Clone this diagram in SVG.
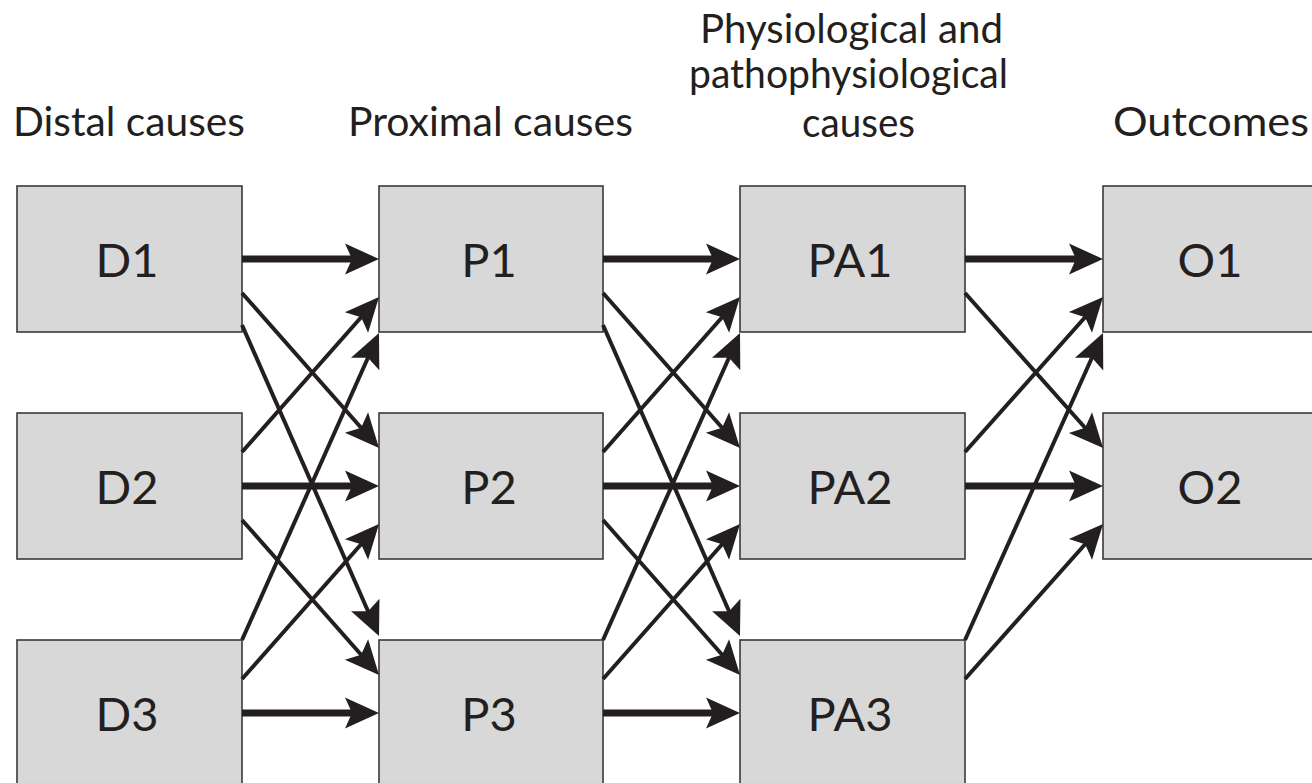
<svg xmlns="http://www.w3.org/2000/svg" width="1312" height="783" viewBox="0 0 1312 783">
  <style>
    .box { fill: #d8d8d8; stroke: #3a3a3a; stroke-width: 1.6; }
    .label { font-family: Lato, "Open Sans", "Liberation Sans", sans-serif; font-size: 47px; fill: #231f20; text-anchor: middle; }
    .title { font-family: Lato, "Open Sans", "Liberation Sans", sans-serif; font-size: 40px; fill: #231f20; text-anchor: middle; }
    .thick { stroke: #231f20; stroke-width: 7; fill: none; marker-end: url(#head); }
    .thin { stroke: #231f20; stroke-width: 4; fill: none; marker-end: url(#head); }
  </style>
  <defs>
    <!-- arrowhead: tip sits 20 units past the line end -->
    <marker id="head" markerUnits="userSpaceOnUse" markerWidth="1" markerHeight="1" refX="0" refY="0" orient="auto" overflow="visible">
      <path d="M20,0 L-14,-15.5 L-7,0 L-14,15.5 Z" fill="#231f20"/>
    </marker>
  </defs>

  <rect width="1312" height="783" fill="#ffffff"/>

  <!-- column headings -->
  <g id="headings">
    <text class="title" x="129" y="136" textLength="232" lengthAdjust="spacingAndGlyphs">Distal causes</text>
    <text class="title" x="490.5" y="136" textLength="285" lengthAdjust="spacingAndGlyphs">Proximal causes</text>
    <text class="title" x="851.5" y="43" textLength="303" lengthAdjust="spacingAndGlyphs">Physiological and</text>
    <text class="title" x="848.5" y="88" textLength="319" lengthAdjust="spacingAndGlyphs">pathophysiological</text>
    <text class="title" x="858.5" y="137" textLength="113" lengthAdjust="spacingAndGlyphs">causes</text>
    <text class="title" x="1211" y="136" textLength="196" lengthAdjust="spacingAndGlyphs">Outcomes</text>
  </g>

  <!-- distal causes -->
  <g id="D1"><rect class="box" x="17" y="186" width="225" height="146"/><text class="label" x="127" y="277">D1</text></g>
  <g id="D2"><rect class="box" x="17" y="413" width="225" height="146"/><text class="label" x="127" y="504">D2</text></g>
  <g id="D3"><rect class="box" x="17" y="640" width="225" height="146"/><text class="label" x="127" y="731">D3</text></g>

  <!-- proximal causes -->
  <g id="P1"><rect class="box" x="379" y="186" width="224" height="146"/><text class="label" x="489" y="277">P1</text></g>
  <g id="P2"><rect class="box" x="379" y="413" width="224" height="146"/><text class="label" x="489" y="504">P2</text></g>
  <g id="P3"><rect class="box" x="379" y="640" width="224" height="146"/><text class="label" x="489" y="731">P3</text></g>

  <!-- physiological and pathophysiological causes -->
  <g id="PA1"><rect class="box" x="740" y="186" width="225" height="146"/><text class="label" x="850" y="277">PA1</text></g>
  <g id="PA2"><rect class="box" x="740" y="413" width="225" height="146"/><text class="label" x="850" y="504">PA2</text></g>
  <g id="PA3"><rect class="box" x="740" y="640" width="225" height="146"/><text class="label" x="850" y="731">PA3</text></g>

  <!-- outcomes -->
  <g id="O1"><rect class="box" x="1103" y="186" width="225" height="146"/><text class="label" x="1210" y="277">O1</text></g>
  <g id="O2"><rect class="box" x="1103" y="413" width="225" height="146"/><text class="label" x="1210" y="504">O2</text></g>

  <g id="connectors">
    <!-- distal to proximal -->
    <line class="thick" x1="242" y1="259" x2="359" y2="259"/>
    <line class="thick" x1="242" y1="486" x2="359" y2="486"/>
    <line class="thick" x1="242" y1="713" x2="359" y2="713"/>
    <line class="thin" x1="242" y1="293" x2="365.76" y2="433.02"/>
    <line class="thin" x1="242" y1="520" x2="365.76" y2="660.02"/>
    <line class="thin" x1="242" y1="452" x2="365.76" y2="311.98"/>
    <line class="thin" x1="242" y1="679" x2="365.76" y2="538.98"/>
    <line class="thin" x1="242" y1="325" x2="370.93" y2="617.7"/>
    <line class="thin" x1="242" y1="640" x2="370.85" y2="351.26"/>

    <!-- proximal to physiological -->
    <line class="thick" x1="603" y1="259" x2="720" y2="259"/>
    <line class="thick" x1="603" y1="486" x2="720" y2="486"/>
    <line class="thick" x1="603" y1="713" x2="720" y2="713"/>
    <line class="thin" x1="603" y1="293" x2="726.76" y2="433.02"/>
    <line class="thin" x1="603" y1="520" x2="726.76" y2="660.02"/>
    <line class="thin" x1="603" y1="452" x2="726.76" y2="311.98"/>
    <line class="thin" x1="603" y1="679" x2="726.76" y2="538.98"/>
    <line class="thin" x1="603" y1="325" x2="731.93" y2="617.7"/>
    <line class="thin" x1="603" y1="640" x2="731.85" y2="351.26"/>

    <!-- physiological to outcomes -->
    <line class="thick" x1="965" y1="259" x2="1083" y2="259"/>
    <line class="thick" x1="965" y1="486" x2="1083" y2="486"/>
    <line class="thin" x1="965" y1="293" x2="1089.76" y2="433.02"/>
    <line class="thin" x1="965" y1="452" x2="1089.76" y2="311.98"/>
    <line class="thin" x1="965" y1="679" x2="1089.76" y2="538.98"/>
    <line class="thin" x1="965" y1="640" x2="1094.85" y2="351.26"/>
  </g>
</svg>
